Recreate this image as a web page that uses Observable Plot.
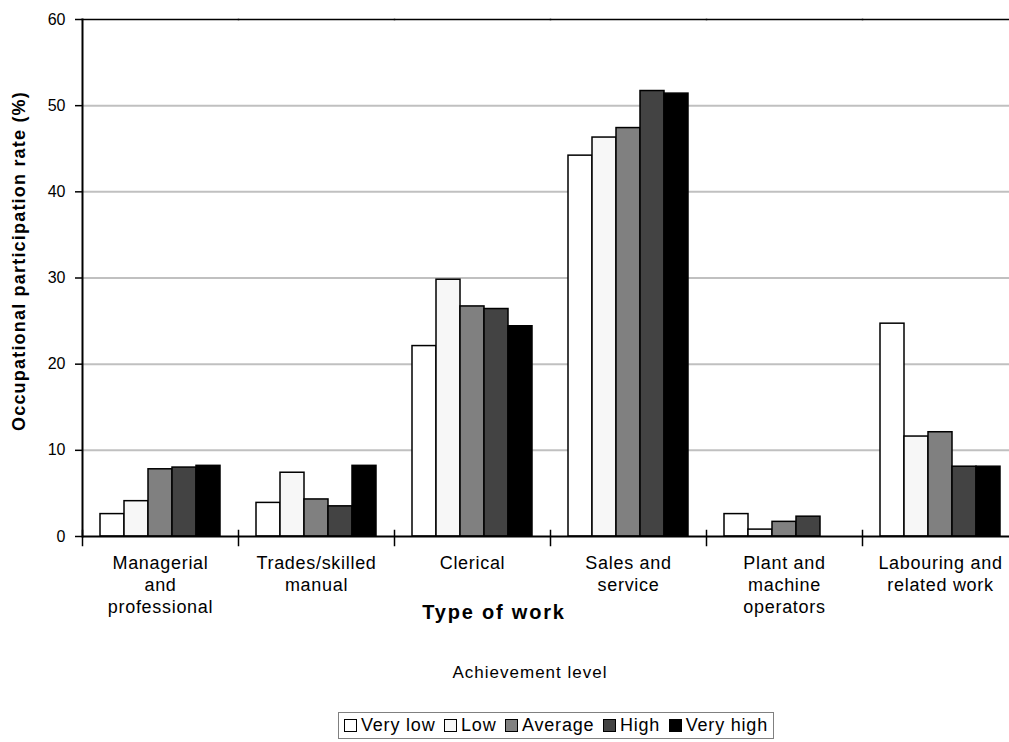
<!DOCTYPE html>
<html>
<head>
<meta charset="utf-8">
<script src="https://cdn.jsdelivr.net/npm/d3@7"></script>
<script src="https://cdn.jsdelivr.net/npm/@observablehq/plot@0.6"></script>
<style>
  html, body { margin: 0; padding: 0; background: #fff; overflow: hidden; width: 1009px; height: 742px; }
  #wrap { position: relative; width: 1009px; height: 742px; overflow: hidden; font-family: "Liberation Sans", Arial, sans-serif; color: #000; }
  #chart { position: absolute; left: 0; top: 0; width: 1018px; }
  #chart svg { max-width: none !important; }
  #chart svg [aria-label="fx-axis tick label"] text { letter-spacing: 0.7px; }
  .abs { position: absolute; white-space: nowrap; }
  #ytitle { left: 19px; top: 261px; transform: translate(-50%, -50%) rotate(-90deg); font-weight: bold; font-size: 18px; letter-spacing: 1.2px; }
  #xtitle { left: 494px; top: 612px; transform: translate(-50%, -50%); font-weight: bold; font-size: 20px; letter-spacing: 1.8px; }
  #subtitle { left: 530px; top: 673px; transform: translate(-50%, -50%); font-size: 17px; letter-spacing: 1px; }
  #legend { left: 338px; top: 712px; width: 436px; height: 27px; border: 1px solid #808080; display: flex; align-items: center; justify-content: space-between; padding: 0 5px; box-sizing: border-box; font-size: 18px; letter-spacing: 0.8px; }
  .item { display: flex; align-items: center; }
  .sw { width: 11px; height: 11px; border: 1.5px solid #000; margin-right: 4px; }
</style>
</head>
<body>
<div id="wrap">
  <div id="chart"></div>
  <div id="ytitle" class="abs">Occupational participation rate (%)</div>
  <div id="xtitle" class="abs">Type of work</div>
  <div id="subtitle" class="abs">Achievement level</div>
  <div id="legend" class="abs"></div>
</div>
<script>
const categories = [
  "Managerial\nand\nprofessional",
  "Trades/skilled\nmanual",
  "Clerical",
  "Sales and\nservice",
  "Plant and\nmachine\noperators",
  "Labouring and\nrelated work"
];
const levels = ["Very low", "Low", "Average", "High", "Very high"];
const veryLow  = [2.6, 3.9, 22.1, 44.2, 2.6, 24.7];
const low      = [4.1, 7.4, 29.8, 46.3, 0.8, 11.6];
const average  = [7.8, 4.3, 26.7, 47.4, 1.7, 12.1];
const high     = [8.0, 3.5, 26.4, 51.7, 2.3, 8.1];
const veryHigh = [8.2, 8.2, 24.4, 51.4, 0.0, 8.1];
const levelColors = ["#ffffff", "#f7f7f7", "#808080", "#434343", "#000000"];
const yTicks = [0, 10, 20, 30, 40, 50, 60];

const series = [veryLow, low, average, high, veryHigh];
const rows = [];
categories.forEach((c, i) => {
  levels.forEach((l, j) => rows.push({category: c, level: l, value: series[j][i]}));
});

const chart = Plot.plot({
  width: 1018,
  height: 630,
  marginLeft: 82,
  marginRight: 0,
  marginTop: 19,
  marginBottom: 94,
  style: {fontFamily: "Liberation Sans, Arial, sans-serif", fontSize: "16px", background: "white", color: "#000", maxWidth: "none"},
  fx: {domain: categories, padding: 0, label: null},
  x: {domain: levels, paddingInner: 0, paddingOuter: 0.72, axis: null},
  y: {domain: [0, 60], ticks: yTicks, label: null},
  color: {domain: levels, range: levelColors},
  marks: [
    Plot.gridY(yTicks.filter(t => t > 0 && t < 60), {stroke: "#c0c0c0", strokeOpacity: 1, strokeWidth: 2}),
    Plot.frame({anchor: "top", stroke: "#000", strokeWidth: 1.5}),
    Plot.barY(rows.filter(d => d.value > 0), {fx: "category", x: "level", y: "value", fill: "level", stroke: "#000", strokeWidth: 1.5}),
    Plot.ruleY([0], {stroke: "#000", strokeWidth: 2}),
    Plot.frame({anchor: "left", facetAnchor: "left", stroke: "#000", strokeWidth: 2}),
    Plot.frame({anchor: "left", insetTop: 511, insetBottom: -9, stroke: "#000", strokeWidth: 1.5}),
    Plot.axisY({ticks: yTicks, tickSize: 7, tickPadding: 10, fontSize: 16, label: null, stroke: "#000", strokeWidth: 1.5}),
    Plot.axisFx({anchor: "bottom", tickSize: 0, tickPadding: 17, fontSize: 18, lineHeight: 1.22, label: null})
  ]
});
document.getElementById("chart").appendChild(chart);

const legend = document.getElementById("legend");
levels.forEach((l, j) => {
  const item = document.createElement("div");
  item.className = "item";
  const sw = document.createElement("div");
  sw.className = "sw";
  sw.style.background = levelColors[j];
  item.appendChild(sw);
  const t = document.createElement("span");
  t.textContent = l;
  item.appendChild(t);
  legend.appendChild(item);
});
</script>
</body>
</html>
